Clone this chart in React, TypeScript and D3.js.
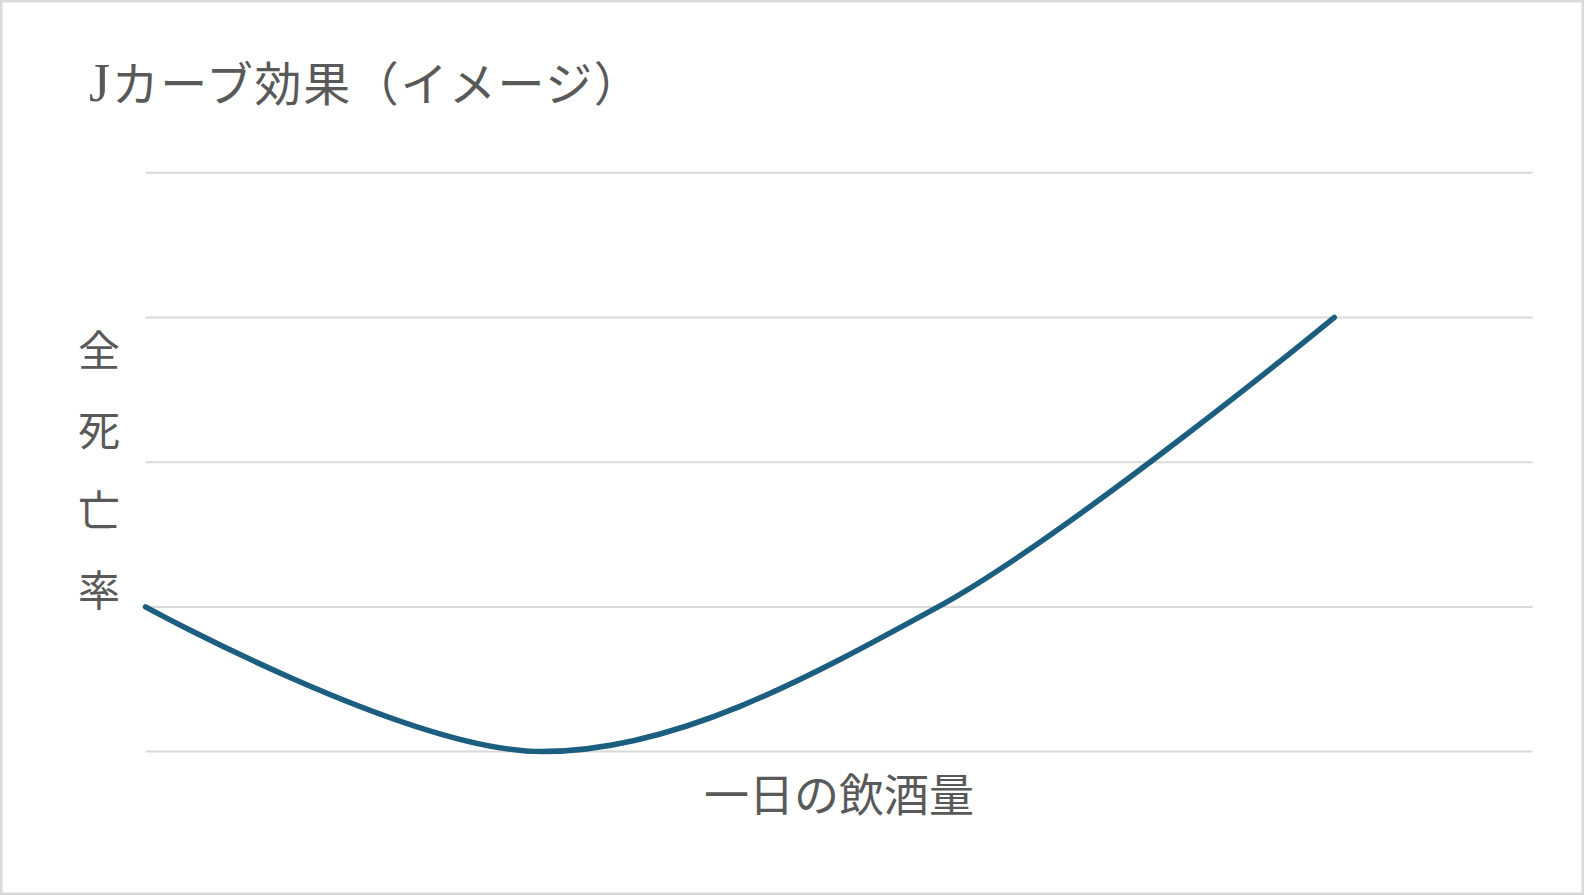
import * as d3 from "d3";

// Drinking amount (hidden x axis, 0..7) and all-cause mortality (hidden y axis, 0..4)
const drinking = [0, 2, 4, 6];
const mortality = [1, 0, 1, 3];
const xDomain = [0, 7];
const yTicks = [0, 1, 2, 3, 4];

const title = "Jカーブ効果（イメージ）";
const yTitle = ["全", "死", "亡", "率"];
const xTitle = "一日の飲酒量";

const W = 1584;
const H = 895;
const plot = { left: 145.5, right: 1532.5, top: 172.7, bottom: 751.6 };

const FONT = '"Liberation Serif", "Noto Sans CJK JP", serif';
const TEXT = "#595959";

export default function App() {
  const x = d3.scaleLinear().domain(xDomain).range([plot.left, plot.right]);
  const y = d3.scaleLinear().domain([0, 4]).range([plot.bottom, plot.top]);

  const points = drinking.map((d, i) => [d, mortality[i]] as [number, number]);

  // Excel-style smoothed line
  const line = d3
    .line<[number, number]>()
    .x((d) => x(d[0]))
    .y((d) => y(d[1]))
    .curve(d3.curveCardinal.tension(0));

  return (
    <svg
      width={W}
      height={H}
      style={{ position: "absolute", left: 0, top: 0, background: "#fff" }}
    >
      <rect x={1.25} y={1.25} width={W - 2.5} height={H - 2.5} fill="#fff" stroke="#d9d9d9" strokeWidth={2.5} />

      <text x={89} y={101} fontFamily={FONT} fontSize={47} letterSpacing={1.6} fill={TEXT}>
        <tspan fontSize={54}>J</tspan>
        {title.slice(1)}
      </text>

      {yTicks.map((t) => (
        <line key={t} x1={plot.left} x2={plot.right} y1={y(t)} y2={y(t)} stroke="#d9d9d9" strokeWidth={2} />
      ))}

      <path
        d={line(points) ?? ""}
        fill="none"
        stroke="#1b5e7f"
        strokeWidth={5.5}
        strokeLinecap="round"
        strokeLinejoin="round"
      />

      {yTitle.map((c, i) => (
        <text
          key={c}
          x={99}
          y={352 + i * 80}
          textAnchor="middle"
          dominantBaseline="central"
          fontFamily={FONT}
          fontSize={42}
          fill={TEXT}
        >
          {c}
        </text>
      ))}

      <text
        x={(plot.left + plot.right) / 2}
        y={797}
        textAnchor="middle"
        dominantBaseline="central"
        fontFamily={FONT}
        fontSize={45}
        fill={TEXT}
      >
        {xTitle}
      </text>
    </svg>
  );
}
